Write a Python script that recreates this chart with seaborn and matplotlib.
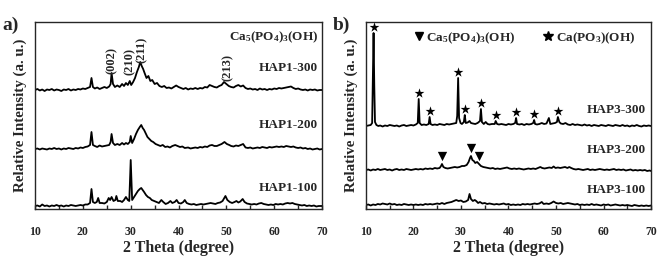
import numpy as np
import pandas as pd
import matplotlib
matplotlib.use('Agg')
import matplotlib.pyplot as plt
from matplotlib.lines import Line2D
from matplotlib.ticker import MultipleLocator
import seaborn as sns

# XRD patterns: (2 theta, intensity above own baseline, a.u.)
hap1_300 = [(10,0),(10.5,1),(11,-0.5),(11.5,0.5),(12,-1),(12.5,0.5),(13,0),(13.5,1),(14,-0.5),(14.5,0.5),(15,0),(15.5,-1),(16,0.5),(16.5,0),(17,1),(17.5,-0.5),(18,0.5),(18.5,0),(19,1),(19.5,0.5),(20,1.5),(20.5,1),(21,2),(21.5,3),(21.8,12),(22.1,3),(22.5,1.5),(23,2.5),(23.5,1),(24,2),(24.5,3),(25,2),(25.5,3.5),(25.8,6),(26.0,17),(26.3,6),(26.7,3),(27.2,4.5),(27.7,3),(28.2,6),(28.6,4),(29.0,7),(29.4,5),(29.8,9),(30.1,5),(30.5,8),(30.9,12),(31.3,18),(31.7,23),(32.0,28),(32.3,24),(32.6,21),(32.9,17),(33.3,12),(33.7,14),(34.1,9),(34.5,10),(35.0,6),(35.5,7),(36.0,4),(36.5,3),(37,4),(37.5,2),(38,2.5),(38.5,1.5),(39,3),(39.5,4.5),(40,3),(40.5,2),(41,1),(41.5,2),(42,0.5),(42.5,1.5),(43,1),(43.5,2),(44,1),(44.5,2),(45,1.5),(45.5,3),(46,2.5),(46.5,5),(47,4),(47.5,3),(48,2.5),(48.5,4),(49,5),(49.5,8),(50,6),(50.5,4),(51,3),(51.5,2.5),(52,4),(52.5,5),(53,3.5),(53.5,4.5),(54,2),(54.5,1),(55,1.5),(55.5,0.5),(56,1),(56.5,0),(57,1.5),(57.5,0.5),(58,1),(58.5,0),(59,1),(59.5,0.5),(60,1.5),(60.5,1),(61,2),(61.5,1.5),(62,2),(62.5,2.5),(63,3),(63.5,3.5),(64,2),(64.5,1),(65,1.5),(65.5,0.5),(66,0),(66.5,0.5),(67,-0.5),(67.5,0.5),(68,0),(68.5,0.5),(69,-0.5),(69.5,0),(70,0)]
hap1_200 = [(10,0),(10.5,0.5),(11,-0.5),(11.5,0.5),(12,0),(12.5,-0.5),(13,0.5),(13.5,0),(14,1),(14.5,0),(15,0.5),(15.5,-0.5),(16,0.5),(16.5,0),(17,1),(17.5,0.5),(18,0),(18.5,1),(19,0.5),(19.5,1.5),(20,1),(20.5,2),(21,2.5),(21.5,4),(21.8,17),(22.1,4),(22.5,3),(23,2),(23.5,3.5),(24,2.5),(24.5,3),(25,3.5),(25.5,4),(25.8,7),(26.0,15),(26.3,6),(26.7,4),(27.2,5),(27.7,4),(28.2,6),(28.6,4.5),(29.0,6),(29.4,5),(29.8,7),(30.0,13),(30.3,6),(30.7,10),(31.1,15),(31.5,19),(31.9,22),(32.2,24),(32.5,21),(32.8,19),(33.1,16),(33.5,12),(33.9,10),(34.3,8),(34.7,7),(35.2,5),(35.7,4),(36.2,3),(36.7,4),(37.2,2),(37.7,2.5),(38.2,1.5),(38.7,3),(39.3,4),(39.8,3),(40.3,2),(40.8,2.5),(41.3,1),(42,1.5),(42.5,0.5),(43,1),(43.5,1.5),(44,1),(44.5,2),(45,1.5),(45.5,2.5),(46,2),(46.5,3.5),(47,4),(47.5,3),(48,3),(48.5,4),(49,5),(49.6,7),(50.1,5),(50.6,4),(51,3),(51.5,2.5),(52,3.5),(52.5,3),(53,4),(53.5,5),(54,1.5),(54.5,1),(55,1.5),(55.5,0.5),(56,1),(56.5,1.5),(57,1),(57.5,2),(58,1.5),(58.5,1),(59,2),(59.5,1.5),(60,2),(60.5,2.5),(61,2),(61.5,2.5),(62,2),(62.5,3),(63,2.5),(63.5,2),(64,2.5),(64.5,1.5),(65,1),(65.5,1.5),(66,0.5),(66.5,1),(67,0),(67.5,0.5),(68,-0.5),(68.5,0),(69,0.5),(69.5,-0.5),(70,0)]
hap1_100 = [(10,0),(10.5,0.5),(11,-0.5),(11.5,1.5),(12,0),(12.5,0.5),(13,-0.5),(13.5,0.5),(14,0),(14.5,1),(15,0),(15.5,0.5),(16,-0.5),(16.5,0.5),(17,0),(17.5,1),(18,0.5),(18.5,0),(19,0.5),(19.5,1),(20,0.5),(20.5,1.5),(21,1.5),(21.5,3),(21.8,17),(22.1,4),(22.5,3),(22.9,4),(23.2,8),(23.5,3),(24,3),(24.5,2.5),(25,4),(25.4,8),(25.7,6),(26.0,9),(26.4,5),(26.8,6),(27.0,10),(27.3,5),(27.8,5),(28.2,4),(28.6,6),(29.0,9),(29.4,6),(29.7,5),(30.0,46),(30.3,6),(30.7,9),(31.1,12),(31.5,15),(31.9,17),(32.2,18),(32.5,16),(32.8,14),(33.2,11),(33.6,9),(34.0,8),(34.4,6),(34.9,5),(35.4,4),(35.9,3),(36.4,6),(36.8,4),(37.3,2),(37.8,3),(38.3,5),(38.7,3),(39.2,4),(39.6,6),(40.0,3),(40.5,2.5),(41.0,4),(41.3,6),(41.7,3),(42.2,2),(42.7,1.5),(43.2,2),(43.7,1),(44.2,1.5),(44.7,2),(45.2,1.5),(45.7,2),(46.2,2.5),(46.7,3),(47.2,2.5),(47.7,2),(48.2,3),(48.7,3.5),(49.2,5),(49.8,10),(50.2,6),(50.7,4),(51.2,3),(51.7,4),(52.1,5),(52.5,3.5),(52.9,4.5),(53.4,7),(53.8,4),(54.3,2.5),(54.8,2),(55.3,1.5),(55.8,2),(56.3,1.5),(56.8,2.5),(57.3,3),(57.8,2),(58.3,1.5),(58.8,1),(59.3,1.5),(59.8,1),(60.3,2),(60.8,1.5),(61.3,2),(61.8,1.5),(62.3,2.5),(62.8,3),(63.3,2.5),(63.8,3),(64.3,2),(64.8,1.5),(65.3,1),(65.8,0.5),(66.3,1),(66.8,0),(67.3,0.5),(67.8,0),(68.3,0.5),(68.8,-0.5),(69.3,0),(70,0)]

hap3_300 = [(10,0),(10.5,0.5),(11,1),(11.3,3),(11.5,60),(11.6,93),(11.75,40),(11.9,4),(12.2,1),(12.6,0),(13,0.5),(13.5,-0.5),(14,0.5),(14.5,0),(15,1),(15.5,0.5),(16,0),(16.5,0.5),(17,-0.5),(17.5,0.5),(18,1),(18.5,0),(19,0.5),(19.5,1),(20,0.5),(20.5,1.5),(20.9,3),(21.1,27),(21.3,3),(21.7,1),(22.2,1.5),(22.7,1),(23.2,2),(23.4,9),(23.6,2),(24,1),(24.5,1.5),(25,1),(25.5,2),(26,1.5),(26.5,1),(27,2),(27.5,1.5),(28,2),(28.5,2.5),(29.0,3),(29.2,10),(29.4,48),(29.6,8),(29.9,3),(30.2,2),(30.6,4),(30.8,11),(31.0,3),(31.4,3.5),(31.8,5),(32.1,3),(32.5,2.5),(33,2),(33.5,3),(34.0,5),(34.2,17),(34.4,4),(34.8,2),(35.2,4),(35.6,2),(36,1.5),(36.5,2),(37.1,2),(37.3,5),(37.6,2),(38,1.5),(38.5,2),(39,1.5),(39.5,1),(40,2),(40.5,1.5),(41,2),(41.4,3),(41.6,8),(41.8,2),(42.3,1.5),(42.8,2),(43.3,1),(43.8,2),(44.3,1.5),(44.8,2),(45.2,3),(45.4,6),(45.6,2),(46,1.5),(46.5,2),(47,3),(47.5,2),(48,2.5),(48.5,8),(48.8,2),(49.3,2.5),(49.8,3),(50.2,4),(50.4,9),(50.7,4),(51,2.5),(51.5,2),(52,3),(52.5,1.5),(53,1),(53.5,2),(54,1),(54.5,1.5),(55,1),(55.5,0.5),(56,1.5),(56.5,0.5),(57,1),(57.5,0),(58,1),(58.5,0.5),(59,0),(59.5,1),(60,0.5),(60.5,0),(61,1),(61.5,0.5),(62,0),(62.5,1),(63,0.5),(63.5,0),(64,1),(64.5,0),(65,0.5),(65.5,-0.5),(66,0.5),(66.5,0),(67,1),(67.5,0),(68,-0.5),(68.5,0.5),(69,0),(69.5,0.5),(70,0)]
hap3_200 = [(10,0),(10.5,0.5),(11,-0.5),(11.5,0.5),(12,0),(12.5,1),(13,0),(13.5,0.5),(14,1),(14.5,0),(15,0.5),(15.5,-0.5),(16,0.5),(16.5,1),(17,0),(17.5,0.5),(18,0),(18.5,1),(19,0.5),(19.5,0),(20,0.5),(20.5,1),(21,0.5),(21.5,1),(22,0.5),(22.5,1.5),(23,1),(23.5,1.5),(24,1),(24.5,2),(25,1.5),(25.5,2),(25.8,4),(26.0,6),(26.3,3),(26.7,2),(27.2,1.5),(27.7,2),(28.2,2.5),(28.7,3),(29.2,2.5),(29.7,3),(30.2,4),(30.7,4),(31.2,5),(31.6,8),(31.9,12),(32.1,14),(32.4,10),(32.7,9),(33.0,7),(33.4,8),(33.8,6),(34.2,4),(34.7,3),(35.2,2.5),(35.7,2),(36.2,1.5),(36.7,2),(37.2,1),(37.7,1.5),(38.2,1),(38.7,1.5),(39.2,2),(39.7,2.5),(40.2,1.5),(40.7,1),(41.2,1.5),(41.7,1),(42.2,1.5),(42.7,1),(43.2,0.5),(43.7,1),(44.2,1.5),(44.7,1),(45.2,1.5),(45.7,1),(46.2,2),(46.7,3),(47.1,2),(47.6,1.5),(48.1,2),(48.6,2.5),(49.1,2),(49.5,3.5),(49.9,2),(50.4,2.5),(50.9,2),(51.4,2.5),(51.9,3),(52.4,2),(52.8,3),(53.2,2),(53.7,1),(54.2,0.5),(54.7,1),(55.2,0.5),(55.7,0),(56.2,0.5),(56.7,1),(57.2,0),(57.7,0.5),(58.2,0),(58.7,0.5),(59.2,1),(59.7,0.5),(60.2,0),(60.7,0.5),(61.2,0),(61.7,0.5),(62.2,1),(62.7,0),(63.2,0.5),(63.7,0),(64.2,0.5),(64.7,-0.5),(65.2,0),(65.7,0.5),(66.2,-0.5),(66.7,0),(67.2,-0.5),(67.7,0),(68.2,-0.5),(68.7,0),(69.2,-1),(69.7,-0.5),(70,-1)]
hap3_100 = [(10,1),(10.5,1.5),(11,0.5),(11.5,1.5),(12,1),(12.5,2),(13,1.5),(13.5,2.5),(14,2),(14.5,1.5),(15,2.5),(15.5,1.5),(16,2),(16.5,1),(17,1.5),(17.5,1),(18,2),(18.5,1.5),(19,1),(19.5,1.5),(20,1),(20.5,1.5),(21,1),(21.5,1.5),(22,1),(22.5,2),(23,1.5),(23.5,2),(24,1.5),(24.5,2),(25,2.5),(25.5,2),(26,3),(26.5,2),(27,3),(27.5,3.5),(28,4),(28.5,5),(29,6),(29.5,5),(30,5.5),(30.5,4),(31,4.5),(31.5,6),(31.8,12),(32.1,7),(32.5,5),(32.9,6),(33.2,5),(33.6,3),(34,4),(34.5,2.5),(35,3),(35.5,2),(36,2.5),(36.5,2),(37,1.5),(37.5,2),(38,1.5),(38.5,2),(39,2.5),(39.5,1.5),(40,2),(40.5,1),(41,1.5),(41.5,1),(42,1.5),(42.5,1),(43,2),(43.5,1.5),(44,2),(44.5,1.5),(45,2),(45.5,2.5),(46,2),(46.5,2.5),(47,4),(47.4,2),(48,2.5),(48.5,2),(49,3),(49.5,4.5),(50,3),(50.5,2.5),(51,3),(51.5,2),(52,2.5),(52.5,3),(53,2.5),(53.5,2),(54,1.5),(54.5,2),(55,1),(55.5,1.5),(56,1),(56.5,1.5),(57,1),(57.5,2),(58,1),(58.5,1.5),(59,1),(59.5,0.5),(60,1.5),(60.5,1),(61,1.5),(61.5,0.5),(62,1),(62.5,1.5),(63,1),(63.5,0.5),(64,1),(64.5,0.5),(65,1),(65.5,0.5),(66,0),(66.5,1),(67,0.5),(67.5,0),(68,0.5),(68.5,0),(69,0.5),(69.5,0),(70,0.5)]

# hkl reflections of Ca5(PO4)3(OH) labelled in panel a
hkl_labels = ['(002)', '(210)', '(211)', '(213)']
hkl_tt = [26.1, 29.9, 32.4, 50.2]
# peaks marked in panel b
star_tt = [11.6, 21.1, 23.4, 29.4, 30.8, 34.2, 37.3, 41.6, 45.4, 50.4]   # Ca(PO3)(OH)
tri_tt = [26.0, 32.1, 33.8]                                              # Ca5(PO4)3(OH)

# vertical stacking of the patterns
offsets = {'HAP1-300': 119, 'HAP1-200': 60, 'HAP1-100': 3,
           'HAP3-300': 83, 'HAP3-200': 39, 'HAP3-100': 3}
curves = {'HAP1-300': hap1_300, 'HAP1-200': hap1_200, 'HAP1-100': hap1_100,
          'HAP3-300': hap3_300, 'HAP3-200': hap3_200, 'HAP3-100': hap3_100}

rows = []
for name, pts in curves.items():
    for tt, inten in pts:
        rows.append((name, tt, inten + offsets[name]))
df = pd.DataFrame(rows, columns=['sample', 'tt', 'y'])

sns.set_style('ticks')
plt.rcParams['font.family'] = ['Liberation Serif', 'DejaVu Serif']
plt.rcParams['font.weight'] = 'bold'
plt.rcParams['mathtext.default'] = 'regular'
plt.rcParams['axes.linewidth'] = 1.0

fig = plt.figure(figsize=(6.66, 2.66), dpi=100)
ax1 = fig.add_axes([0.0526, 0.2143, 0.431, 0.703])
ax2 = fig.add_axes([0.5495, 0.2143, 0.428, 0.703])

apatite = 'Ca$_5$(PO$_4$)$_3$(OH)'

for ax, prefix in [(ax1, 'HAP1'), (ax2, 'HAP3')]:
    sub = df[df['sample'].str.startswith(prefix)]
    sns.lineplot(data=sub, x='tt', y='y', units='sample', estimator=None,
                 color='black', lw=1.3, ax=ax, legend=False)
    ax.set_xlim(10, 70)
    ax.set_ylim(0, 187)
    ax.set_yticks([])
    ax.xaxis.set_major_locator(MultipleLocator(10))
    ax.xaxis.set_minor_locator(MultipleLocator(5))
    ax.tick_params(axis='x', which='both', direction='in', length=3, width=1,
                   pad=12, labelsize=8.5)
    ax.set_xlabel('2 Theta (degree)', fontsize=11.5, fontweight='bold', labelpad=2)
    ax.set_ylabel('Relative Intensity (a. u.)', fontsize=10.8, fontweight='bold', labelpad=6)
    for s in ax.spines.values():
        s.set_linewidth(1.0)

# sample labels
for name, ypos in [('HAP1-300', 0.754), ('HAP1-200', 0.449), ('HAP1-100', 0.112)]:
    ax1.text(0.986, ypos, name, transform=ax1.transAxes, ha='right', va='center',
             fontsize=9.5, fontweight='bold')
for name, ypos in [('HAP3-300', 0.529), ('HAP3-200', 0.316), ('HAP3-100', 0.102)]:
    ax2.text(0.982, ypos, name, transform=ax2.transAxes, ha='right', va='center',
             fontsize=9.5, fontweight='bold')
ax1.text(0.986, 0.92, apatite, transform=ax1.transAxes, ha='right', va='center',
         fontsize=9.5, fontweight='bold')

# hkl labels above HAP1-300 peaks
c300 = np.array(hap1_300)
for lab, tt, gap in zip(hkl_labels, hkl_tt, [3, 7, 4, 4]):
    ytop = np.interp(tt, c300[:, 0], c300[:, 1]) + offsets['HAP1-300']
    ax1.text(tt, ytop + gap, lab, rotation=90, ha='center', va='bottom',
             fontsize=9, fontweight='bold')

# peak markers on panel b
c3 = np.array(hap3_300)
star_y = [max(c3[np.abs(c3[:, 0] - t) < 0.15, 1]) + offsets['HAP3-300'] + 6 for t in star_tt]
ax2.scatter(star_tt, star_y, marker='*', s=55, color='black', zorder=5, linewidths=0)
c2 = np.array(hap3_200)
tri_y = [max(c2[np.abs(c2[:, 0] - t) < 0.25, 1]) + offsets['HAP3-200'] + 8 for t in tri_tt]
ax2.scatter(tri_tt, tri_y, marker='v', s=45, color='black', zorder=5, linewidths=0)

handles = [Line2D([], [], ls='none', marker='v', color='black', ms=5.5),
           Line2D([], [], ls='none', marker='*', color='black', ms=7)]
ax2.legend(handles, [apatite, 'Ca(PO$_3$)(OH)'], ncol=2, frameon=False,
           loc='upper right', bbox_to_anchor=(0.985, 1.02),
           handlelength=0.6, handletextpad=0.25, columnspacing=2.2,
           prop={'weight': 'bold', 'size': 9.5})

fig.text(0.004, 0.905, 'a)', fontsize=14, fontweight='bold', va='center')
fig.text(0.499, 0.905, 'b)', fontsize=14, fontweight='bold', va='center')

fig.savefig('out.png', dpi=100)
